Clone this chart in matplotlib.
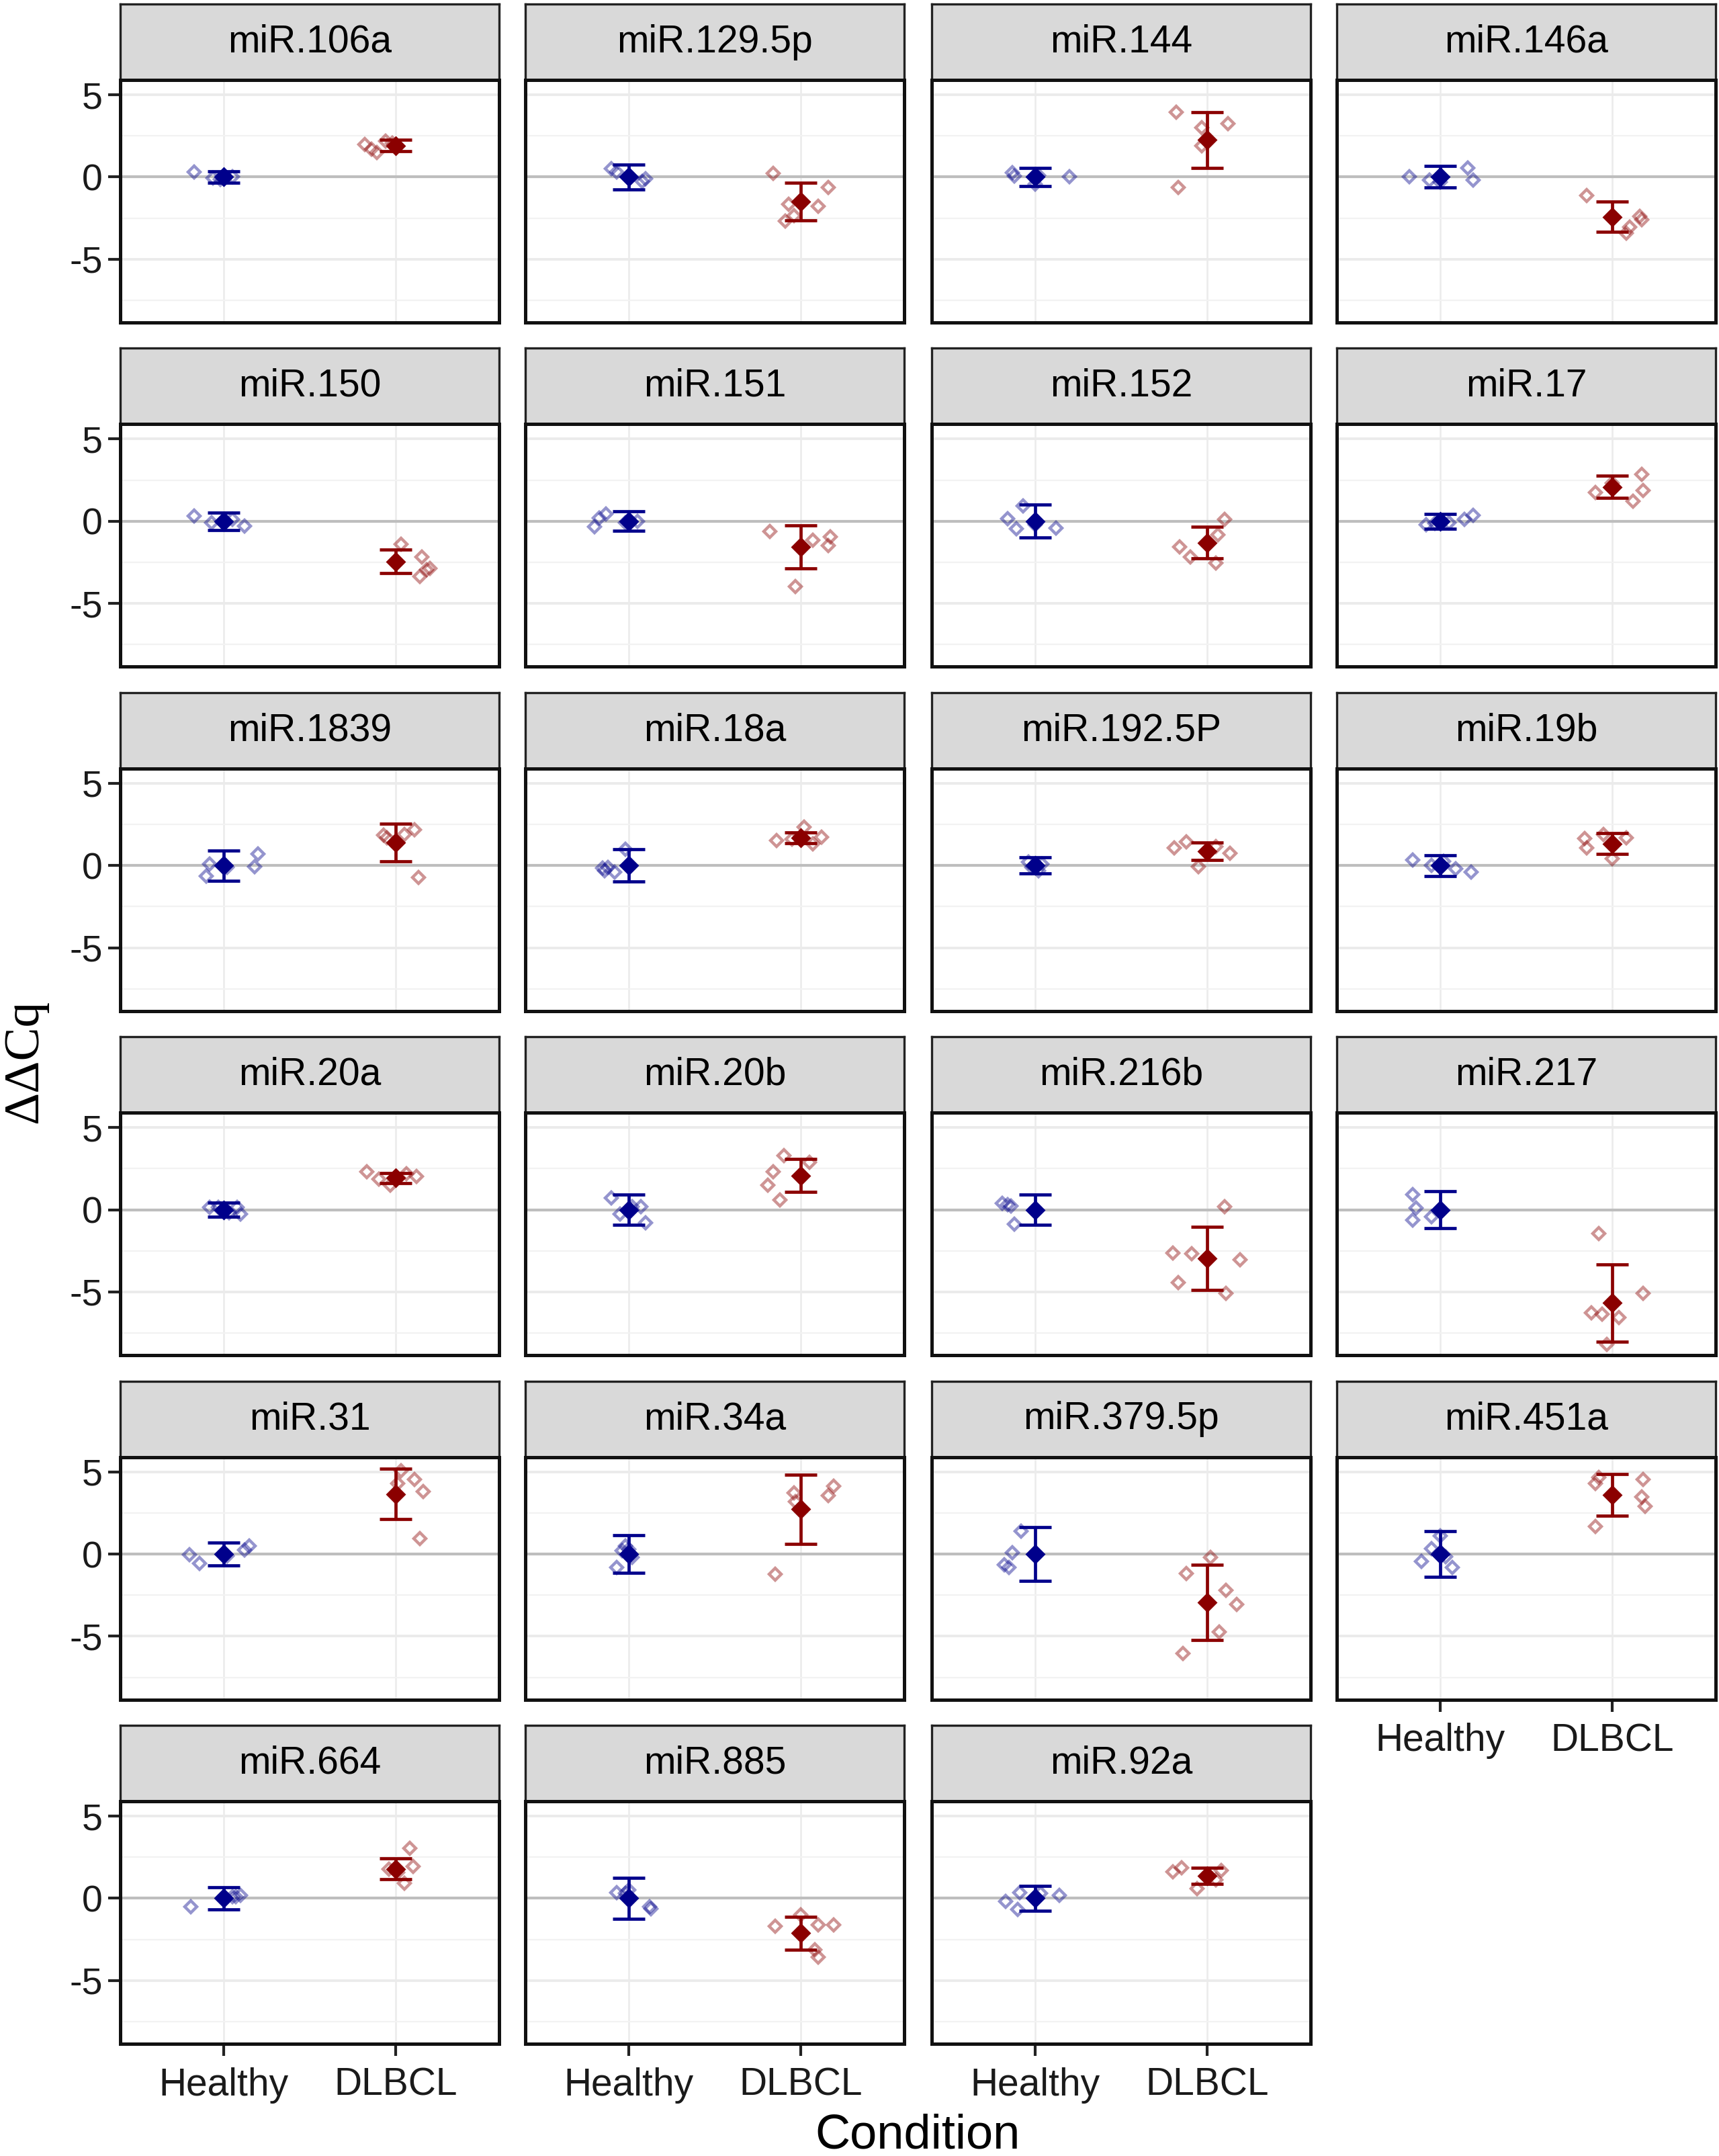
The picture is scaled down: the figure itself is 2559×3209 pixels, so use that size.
import numpy as np
import matplotlib
matplotlib.use("Agg")
import matplotlib.pyplot as plt

# ---------------- data ----------------
mirnas = ["miR.106a", "miR.129.5p", "miR.144", "miR.146a",
          "miR.150", "miR.151", "miR.152", "miR.17",
          "miR.1839", "miR.18a", "miR.192.5P", "miR.19b",
          "miR.20a", "miR.20b", "miR.216b", "miR.217",
          "miR.31", "miR.34a", "miR.379.5p", "miR.451a",
          "miR.664", "miR.885", "miR.92a"]

conditions = ["Healthy", "DLBCL"]

healthy_y = [
    [0.3, -0.05, -0.1, 0.0, -0.15],
    [0.5, 0.3, -0.1, -0.25, 0.0],
    [0.25, 0.05, 0.0, -0.45, 0.1],
    [0.03, 0.56, -0.17, -0.17, -0.3],
    [0.3, -0.3, 0.0, 0.1, -0.1],
    [-0.35, 0.2, 0.45, -0.1, 0.0],
    [0.16, -0.47, -0.4, 0.93, -0.22],
    [0.35, 0.12, -0.23, -0.1, -0.14],
    [-0.65, 0.1, -0.07, 0.72, -0.1],
    [-0.14, -0.3, -0.42, 1.0, -0.1],
    [0.2, -0.3, 0.1, -0.1, 0.05],
    [0.35, -0.19, -0.42, 0.26, 0.0],
    [0.15, -0.2, 0.15, -0.25, 0.15],
    [0.71, 0.17, -0.79, -0.26, 0.17],
    [0.4, 0.21, 0.3, -0.86, -0.05],
    [0.93, 0.12, -0.62, -0.43, 0.0],
    [-0.05, -0.57, 0.26, 0.5, -0.14],
    [-0.8, 0.5, 0.3, -0.2, 0.2],
    [1.4, 0.1, -0.64, -0.81, -0.05],
    [-0.45, 0.31, -0.81, 1.1, -0.15],
    [-0.5, 0.1, 0.2, 0.1, 0.1],
    [0.34, -0.63, -0.5, 0.5, 0.3],
    [-0.17, 0.34, 0.2, -0.68, 0.31],
]
healthy_dx = [
    [-0.17, -0.06, 0.0, 0.05, -0.02],
    [-0.1, -0.07, 0.1, 0.08, 0.0],
    [-0.13, -0.12, 0.2, 0.0, 0.02],
    [-0.18, 0.16, 0.19, -0.06, 0.0],
    [-0.17, 0.12, 0.0, 0.05, -0.07],
    [-0.2, -0.17, -0.13, -0.02, 0.05],
    [-0.16, -0.11, 0.12, -0.07, 0.0],
    [0.19, 0.14, -0.08, 0.05, -0.03],
    [-0.1, -0.08, 0.18, 0.2, 0.02],
    [-0.15, -0.14, -0.08, -0.02, -0.12],
    [-0.04, 0.02, 0.04, -0.02, 0.0],
    [-0.16, 0.09, 0.18, 0.02, -0.05],
    [-0.08, 0.03, 0.08, 0.1, -0.03],
    [-0.1, 0.07, 0.1, -0.05, 0.02],
    [-0.19, -0.14, -0.16, -0.12, 0.0],
    [-0.16, -0.14, -0.16, -0.05, 0.0],
    [-0.2, -0.14, 0.12, 0.15, 0.02],
    [-0.07, -0.02, 0.0, 0.02, -0.04],
    [-0.08, -0.13, -0.18, -0.15, 0.0],
    [-0.11, -0.05, 0.07, 0.0, 0.03],
    [-0.19, 0.07, 0.1, 0.0, 0.05],
    [-0.07, 0.13, 0.12, 0.0, -0.02],
    [-0.17, -0.09, 0.14, -0.1, 0.03],
]
healthy_mean = [0.0] * 23
healthy_err = [0.35, 0.75, 0.55, 0.65, 0.52, 0.6, 1.0, 0.45, 0.92, 0.99, 0.5, 0.64,
               0.42, 0.93, 0.92, 1.11, 0.68, 1.15, 1.62, 1.37, 0.66, 1.23, 0.75]

dlbcl_y = [
    [1.98, 1.7, 1.5, 2.2, 2.05],
    [0.23, -0.62, -1.67, -1.8, -2.7, -2.35],
    [3.92, 3.25, 2.98, 1.9, -0.62],
    [-1.14, -2.4, -2.6, -3.06, -3.4],
    [-1.4, -2.16, -2.86, -2.95, -3.37],
    [-0.63, -1.16, -0.93, -1.47, -3.98],
    [0.12, -0.81, -1.58, -2.16, -2.56],
    [2.84, 1.86, 1.74, 1.21, 2.33],
    [2.19, 1.84, 1.9, 1.7, -0.72],
    [1.5, 2.33, 1.74, 1.33, 1.6],
    [1.09, 1.44, 0.74, -0.07, 1.14],
    [1.63, 1.09, 1.67, 0.4, 1.9],
    [2.31, 1.88, 1.48, 2.02, 2.2],
    [3.31, 2.31, 1.48, 0.6, 2.9],
    [0.17, -2.64, -2.69, -3.05, -4.43, -5.07],
    [-1.45, -5.07, -6.26, -6.33, -6.55, -8.17],
    [5.05, 4.53, 3.82, 0.92, 4.3],
    [-1.21, 3.7, 3.2, 4.14, 3.55],
    [-0.21, -1.17, -2.19, -3.07, -4.74, -6.05],
    [4.64, 4.29, 4.52, 3.46, 2.91, 1.68],
    [3.05, 1.95, 0.93, 1.78, 1.56],
    [-1.69, -1.61, -1.61, -3.14, -3.56, -1.0],
    [1.61, 1.86, 0.59, 1.69, 1.1],
]
dlbcl_dx = [
    [-0.18, -0.14, -0.11, -0.06, -0.02],
    [-0.16, 0.16, -0.07, 0.1, -0.09, -0.04],
    [-0.18, 0.12, -0.03, -0.03, -0.17],
    [-0.15, 0.16, 0.17, 0.1, 0.08],
    [0.03, 0.15, 0.2, 0.18, 0.14],
    [-0.18, 0.07, 0.17, 0.16, -0.03],
    [0.1, 0.06, -0.16, -0.1, 0.05],
    [0.17, 0.18, -0.1, 0.12, 0.0],
    [0.11, -0.07, 0.05, -0.05, 0.13],
    [-0.14, 0.02, 0.12, 0.07, -0.05],
    [-0.19, -0.12, 0.13, -0.05, 0.05],
    [-0.16, -0.15, 0.08, 0.0, -0.05],
    [-0.17, -0.1, -0.03, 0.12, 0.06],
    [-0.1, -0.16, -0.19, -0.12, 0.05],
    [0.1, -0.2, -0.09, 0.19, -0.17, 0.11],
    [-0.08, 0.18, -0.12, -0.06, 0.04, -0.03],
    [0.03, 0.11, 0.16, 0.14, 0.01],
    [-0.15, -0.04, -0.03, 0.19, 0.16],
    [0.02, -0.12, 0.11, 0.17, 0.07, -0.14],
    [-0.08, -0.1, 0.18, 0.17, 0.19, -0.1],
    [0.08, 0.1, 0.05, -0.04, 0.01],
    [-0.15, 0.1, 0.19, 0.08, 0.1, 0.0],
    [-0.2, -0.15, -0.06, 0.08, 0.05],
]
dlbcl_mean = [1.9, -1.5, 2.25, -2.43, -2.44, -1.56, -1.3, 2.09, 1.4, 1.67, 0.86, 1.33,
              1.93, 2.07, -2.95, -5.67, 3.65, 2.73, -2.95, 3.58, 1.78, -2.12, 1.36]
dlbcl_err = [0.35, 1.15, 1.7, 0.92, 0.73, 1.29, 0.97, 0.66, 1.13, 0.33, 0.52, 0.62,
             0.3, 1.0, 1.93, 2.35, 1.52, 2.1, 2.28, 1.27, 0.64, 1.0, 0.5]

y_major = [-5, 0, 5]
y_minor = [-7.5, -2.5, 2.5]

# ---------------- styling ----------------
col_h = "#00008B"
col_d = "#8B0000"
W, H, DPI = 2559, 3209, 200

fig = plt.figure(figsize=(W / DPI, H / DPI), dpi=DPI)
fig.patch.set_facecolor("white")

col_left = [179, 782, 1387, 1990]
pan_w = 564
row_step = 512.4
strip_top0 = 6
strip_h = 113
pan_top0 = 119
pan_h = 361


def add_ax(x0, y0, w, h):
    return fig.add_axes([x0 / W, 1 - (y0 + h) / H, w / W, h / H])


ncol = 4
n = len(mirnas)
for i, name in enumerate(mirnas):
    r, c = divmod(i, ncol)
    x0 = col_left[c]
    # strip
    sax = add_ax(x0, strip_top0 + r * row_step, pan_w, strip_h)
    sax.set_facecolor("#D9D9D9")
    sax.set_xticks([]); sax.set_yticks([])
    for sp in sax.spines.values():
        sp.set_color("#222222"); sp.set_linewidth(1.2)
    sax.text(0.5, 0.5, name, ha="center", va="center", fontsize=20.5,
             family="Liberation Sans", color="#000000", transform=sax.transAxes)

    ax = add_ax(x0, pan_top0 + r * row_step, pan_w, pan_h)
    ax.set_xlim(0.4, 2.6)
    ax.set_ylim(-8.85, 5.9)
    ax.set_yticks(y_major)
    ax.set_yticks(y_minor, minor=True)
    ax.set_xticks([1, 2])
    ax.set_axisbelow(True)
    ax.grid(axis="y", which="major", color="#EBEBEB", lw=1.4)
    ax.grid(axis="y", which="minor", color="#F2F2F2", lw=0.8)
    ax.grid(axis="x", which="major", color="#EBEBEB", lw=0.9)
    for sp in ax.spines.values():
        sp.set_color("#111111"); sp.set_linewidth(1.8)
    ax.axhline(0, color="#BEBEBE", lw=1.5, zorder=1)

    # jittered points
    for xc, ys, dxs, colr in [(1, healthy_y[i], healthy_dx[i], col_h),
                              (2, dlbcl_y[i], dlbcl_dx[i], col_d)]:
        ax.plot(xc + np.array(dxs), ys, ls="none", marker="D", ms=4.4,
                mfc="none", mec=colr, mew=1.6, alpha=0.42, zorder=2)
    # mean and error bars
    for xc, m, e, colr in [(1, healthy_mean[i], healthy_err[i], col_h),
                           (2, dlbcl_mean[i], dlbcl_err[i], col_d)]:
        ax.errorbar([xc], [m], yerr=[e], fmt="none", ecolor=colr,
                    elinewidth=1.7, capsize=8.8, capthick=1.7, zorder=3)
        ax.plot([xc], [m], ls="none", marker="D", ms=6.4, color=colr, zorder=4)

    # ticks / labels
    left = (c == 0)
    bottom = (i + ncol >= n)
    ax.tick_params(axis="y", which="minor", length=0)
    ax.tick_params(axis="y", which="major", length=6.5 if left else 0,
                   width=1.5, color="#222222", labelleft=left,
                   labelsize=20, labelcolor="#1A1A1A", pad=3)
    ax.tick_params(axis="x", which="major", length=6.5 if bottom else 0,
                   width=1.5, color="#222222", labelbottom=bottom,
                   labelsize=20.5, labelcolor="#1A1A1A", pad=6)
    if left:
        ax.set_yticklabels([str(v) for v in y_major], family="Liberation Sans")
    if bottom:
        ax.set_xticklabels(conditions, family="Liberation Sans")

fig.text(37 / W, 1 - 1580 / H, "ΔΔCq", rotation=90, ha="center", va="center",
         fontsize=27, family="Liberation Serif", color="black")
fig.text(1366 / W, 1 - 3179 / H, "Condition", ha="center", va="center",
         fontsize=26, family="Liberation Sans", color="black")

fig.savefig("out.png", dpi=DPI, facecolor="white")
